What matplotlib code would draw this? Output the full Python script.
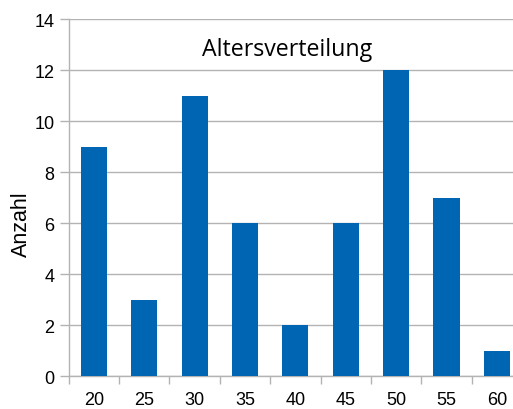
import matplotlib
matplotlib.use("Agg")
import matplotlib.pyplot as plt
import numpy as np

categories = ["20", "25", "30", "35", "40", "45", "50", "55", "60"]
values = [9, 3, 11, 6, 2, 6, 12, 7, 1]
yticks = [0, 2, 4, 6, 8, 10, 12, 14]

W, H = 513, 410
fig = plt.figure(figsize=(W/100, H/100), dpi=100)
left, right, top, bottom = 68.7, 522.0, 20.3, 377.3
ax = fig.add_axes([left/W, 1-bottom/H, (right-left)/W, (bottom-top)/H])

gray = "#b3b3b3"
bar_color = "#0066b3"
x = np.arange(len(categories))
ax.bar(x, values, width=0.52, color=bar_color, zorder=3)
ax.set_xlim(-0.5, len(categories)-0.5)
ax.set_ylim(0, 14)
ax.set_yticks(yticks)
ax.yaxis.grid(True, color=gray, linewidth=1.0, zorder=0)
ax.set_axisbelow(True)

for s in ["top", "right"]:
    ax.spines[s].set_visible(False)
for s in ["left", "bottom"]:
    ax.spines[s].set_color(gray)
    ax.spines[s].set_linewidth(1.0)

ax.set_xticks(x)
ax.set_xticklabels(categories, fontfamily="Liberation Sans", fontsize=13)
ax.set_xticks(np.arange(len(categories)+1)-0.5, minor=True)
ax.tick_params(axis="x", which="major", length=0, pad=10.5)
ax.tick_params(axis="x", which="minor", length=6, width=1, color=gray, direction="out")
ax.tick_params(axis="y", length=6.2, width=1, color=gray, pad=4)
for lab in ax.get_yticklabels():
    lab.set_fontfamily("Liberation Sans")
    lab.set_fontsize(13)

fig.text(21/W, 1-224/H, "Anzahl", fontfamily="Liberation Sans", fontsize=15.5,
         rotation=90, ha="center", va="center")
fig.text(287.5/W, 1-50/H, "Altersverteilung", fontfamily="Open Sans", fontsize=16.7,
         ha="center", va="center")

fig.savefig("out.png", dpi=100)
